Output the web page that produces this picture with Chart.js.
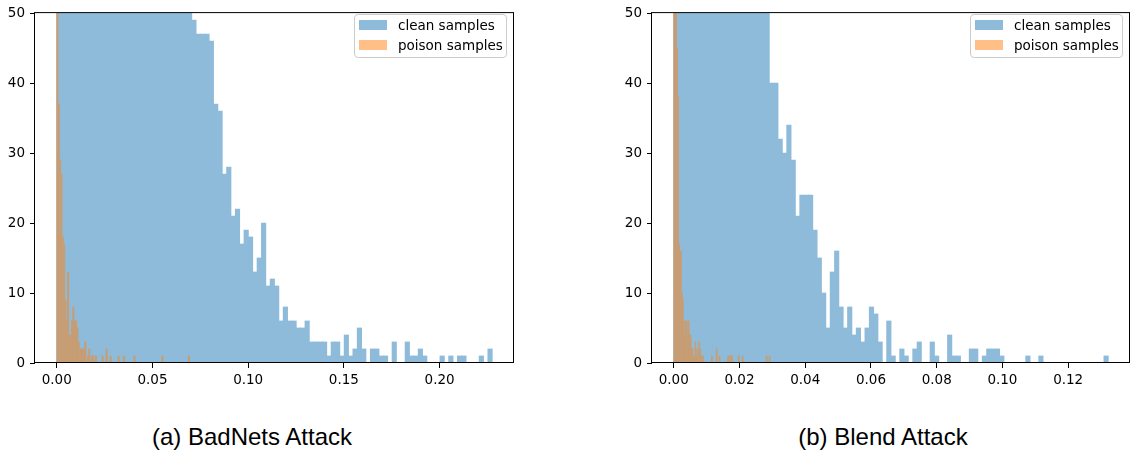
<!DOCTYPE html>
<html>
<head>
<meta charset="utf-8">
<script src="https://cdn.jsdelivr.net/npm/chart.js@4/dist/chart.umd.min.js"></script>
<style>
  html, body { margin: 0; padding: 0; background: #fff; }
  #page { position: relative; width: 1132px; height: 459px; overflow: hidden; }
  .panel { position: absolute; top: 0; height: 400px; }
  .legend {
    position: absolute; top: 14px; width: 153px; height: 44px; box-sizing: border-box;
    border: 1px solid #cccccc; border-radius: 4px; background: rgba(255,255,255,0.8);
    font-family: "DejaVu Sans"; font-size: 13.5px; color: #000;
  }
  .legend .row { position: absolute; left: 0; height: 19px; display: flex; align-items: center; white-space: nowrap; }
  .legend .swatch { width: 28px; height: 10px; margin-left: 4px; margin-right: 11px; }
  .caption {
    position: absolute; top: 423px; width: 400px; text-align: center;
    font-family: "Liberation Sans", Arial, sans-serif; font-size: 24px; line-height: 28px; color: #000;
  }
</style>
</head>
<body>
<div id="page">
  <div class="panel" id="panelA" style="left:0;width:566px"><canvas id="histA" width="566" height="400"></canvas></div>
  <div class="panel" id="panelB" style="left:600px;width:532px"><canvas id="histB" width="532" height="400"></canvas></div>
  <div class="caption" style="left:52px">(a) BadNets Attack</div>
  <div class="caption" style="left:683px">(b) Blend Attack</div>
</div>
<script>
// ── histogram counts (100 bins each) ─────────────────────────────────
// bars above 50 are cut off in the figure, those counts are estimates
const badnetsClean = [
  58, 72, 85, 96, 104, 112, 118, 121, 124, 126,
  127, 128, 127, 125, 122, 118, 114, 110, 105, 100,
  95, 90, 85, 80, 75, 70, 66, 62, 58, 55,
  52, 49, 47, 47, 47, 46, 37, 36, 27, 28,
  21, 22, 17, 19, 18, 13, 15, 20, 11, 12,
  11, 6, 8, 6, 6, 5, 5, 6, 3, 3,
  3, 3, 1, 3, 3, 1, 4, 1, 2, 5,
  2, 0, 2, 2, 1, 1, 0, 3, 0, 0,
  3, 1, 1, 2, 1, 0, 0, 0, 1, 0,
  1, 0, 1, 1, 0, 0, 0, 1, 0, 2,
];
const badnetsPoison = [
  240, 37, 29, 27, 18, 17, 9, 6, 13, 4,
  4, 6, 8, 6, 6, 5, 3, 2, 2, 2,
  2, 3, 0, 1, 2, 0, 1, 1, 0, 1,
  0, 0, 0, 0, 1, 0, 0, 2, 0, 0,
  1, 0, 0, 0, 0, 0, 1, 0, 0, 0,
  1, 0, 0, 0, 0, 0, 0, 0, 1, 0,
  0, 0, 0, 0, 0, 0, 0, 0, 0, 0,
  0, 0, 0, 0, 0, 0, 0, 0, 0, 1,
  0, 0, 0, 0, 0, 0, 0, 0, 0, 0,
  0, 0, 0, 0, 0, 0, 0, 0, 0, 1,
];
const blendClean = [
  55, 80, 100, 115, 125, 130, 132, 130, 126, 120,
  114, 107, 100, 93, 86, 80, 74, 68, 63, 58,
  54, 51, 40, 40, 32, 30, 34, 29, 21, 24,
  24, 24, 19, 15, 10, 5, 13, 16, 8, 5,
  8, 4, 5, 3, 5, 8, 7, 3, 0, 6,
  1, 0, 2, 1, 0, 2, 3, 0, 0, 3,
  1, 0, 0, 4, 1, 1, 0, 0, 2, 2,
  0, 1, 2, 2, 2, 1, 0, 0, 0, 0,
  0, 1, 0, 0, 1, 0, 0, 0, 0, 0,
  0, 0, 0, 0, 0, 0, 0, 0, 0, 1,
];
const blendPoison = [
  400, 150, 70, 45, 38, 17, 15, 16, 10, 9,
  6, 4, 6, 6, 4, 6, 4, 4, 2, 2,
  1, 1, 3, 1, 2, 0, 3, 2, 1, 0,
  1, 0, 0, 0, 0, 0, 0, 0, 0, 1,
  0, 0, 0, 0, 2, 0, 0, 1, 0, 0,
  0, 0, 0, 0, 0, 0, 1, 0, 1, 0,
  1, 0, 0, 0, 0, 0, 0, 1, 0, 0,
  0, 1, 0, 0, 0, 0, 0, 0, 0, 0,
  0, 0, 0, 0, 0, 0, 0, 0, 0, 0,
  0, 0, 0, 0, 0, 0, 1, 0, 0, 1,
];

// value range covered by each histogram's bins
const badnetsCleanRange  = [0, 0.2275];
const badnetsPoisonRange = [0, 0.0694];
const blendCleanRange    = [0, 0.1322];
const blendPoisonRange   = [0, 0.0293];

// tick labels
const badnetsXTicks = [0, 0.05, 0.10, 0.15, 0.20];
const blendXTicks   = [0, 0.02, 0.04, 0.06, 0.08, 0.10, 0.12];
const yTicks        = [0, 10, 20, 30, 40, 50];

const SERIES_LABELS = ["clean samples", "poison samples"];
// tab:blue / tab:orange at alpha .5, pre-mixed and drawn opaque so the
// narrow adjacent bins show no anti-aliasing seams.
// every poison bin sits inside the (taller) clean bins, hence orange-over-blue
const BLUE        = "rgb(143, 187, 218)";
const ORANGE      = "rgb(255, 191, 135)";   // orange over white (legend)
const ORANGE_BLUE = "rgb(199, 157, 116)";   // orange over blue (bars)
const TICK_FONT = { family: "DejaVu Sans", size: 13.5 };

// bin counts -> {x: bin centre, y: count}
function toPoints(counts, range) {
  const w = (range[1] - range[0]) / counts.length;
  return counts.map((c, i) => ({ x: range[0] + (i + 0.5) * w, y: c }));
}

// matplotlib-style box around the axes
const axesFrame = {
  id: "axesFrame",
  afterDraw(chart) {
    const { ctx, chartArea: a } = chart;
    ctx.save();
    ctx.strokeStyle = "#000";
    ctx.lineWidth = 1;
    ctx.strokeRect(a.left - 0.5, a.top - 0.5, a.right - a.left, a.bottom - a.top);
    ctx.restore();
  },
};

function renderLegend(panelId, rightOffset) {
  const el = document.createElement("div");
  el.className = "legend";
  el.style.right = rightOffset + "px";
  el.innerHTML = [BLUE, ORANGE].map((col, i) => `
    <div class="row" style="top:${i * 20}px">
      <span class="swatch" style="background:${col}"></span>${SERIES_LABELS[i]}
    </div>`).join("");
  document.getElementById(panelId).appendChild(el);
}

function renderHist(canvasId, cfg) {
  const lo  = Math.min(cfg.cleanRange[0], cfg.poisonRange[0]);
  const hi  = Math.max(cfg.cleanRange[1], cfg.poisonRange[1]);
  const pad = (hi - lo) * 0.05;
  const setTicks = vals => s => { s.ticks = vals.map(v => ({ value: v })); };

  new Chart(document.getElementById(canvasId).getContext("2d"), {
    type: "bar",
    data: {
      datasets: [
        { label: SERIES_LABELS[0], data: toPoints(cfg.clean, cfg.cleanRange),
          xAxisID: "x", backgroundColor: BLUE, order: 1 },
        { label: SERIES_LABELS[1], data: toPoints(cfg.poison, cfg.poisonRange),
          xAxisID: "xp", backgroundColor: ORANGE_BLUE, order: 0 },
      ],
    },
    options: {
      responsive: false,
      animation: false,
      devicePixelRatio: 1,
      layout: { padding: { top: 7, right: cfg.padRight, left: 0, bottom: 0 } },
      datasets: {
        bar: { barPercentage: 1, categoryPercentage: 1, grouped: false,
               borderWidth: 0, inflateAmount: 0.4 },
      },
      plugins: { legend: { display: false }, tooltip: { enabled: false } },
      scales: {
        x: {
          type: "linear", min: lo - pad, max: hi + pad, offset: false,
          afterBuildTicks: setTicks(cfg.xTicks),
          afterFit: s => { s.height = 37; },
          border: { display: false },
          grid: { offset: false, drawOnChartArea: false, tickLength: 5, color: "#000", tickColor: "#000" },
          ticks: { padding: 4, color: "#000", font: TICK_FONT, maxRotation: 0, autoSkip: false,
                   callback: v => v.toFixed(2) },
        },
        // poison bins are narrower, so they get their own (hidden) x scale
        xp: {
          type: "linear", display: false, min: lo - pad, max: hi + pad, offset: false,
          grid: { offset: false },
          afterBuildTicks: setTicks(cfg.xTicks),
        },
        y: {
          min: 0, max: 50,
          afterBuildTicks: setTicks(yTicks),
          afterFit: s => { s.width = cfg.yWidth; },
          border: { display: false },
          grid: { drawOnChartArea: false, tickLength: 5, color: "#000", tickColor: "#000" },
          ticks: { padding: 5, color: "#000", font: TICK_FONT, callback: v => String(v) },
        },
      },
    },
    plugins: [axesFrame],
  });
}

renderHist("histA", {
  clean: badnetsClean, poison: badnetsPoison,
  cleanRange: badnetsCleanRange, poisonRange: badnetsPoisonRange,
  xTicks: badnetsXTicks, yWidth: 35, padRight: 52,
});
renderHist("histB", {
  clean: blendClean, poison: blendPoison,
  cleanRange: blendCleanRange, poisonRange: blendPoisonRange,
  xTicks: blendXTicks, yWidth: 52, padRight: 2,
});
renderLegend("panelA", 59);
renderLegend("panelB", 9);
</script>
</body>
</html>
